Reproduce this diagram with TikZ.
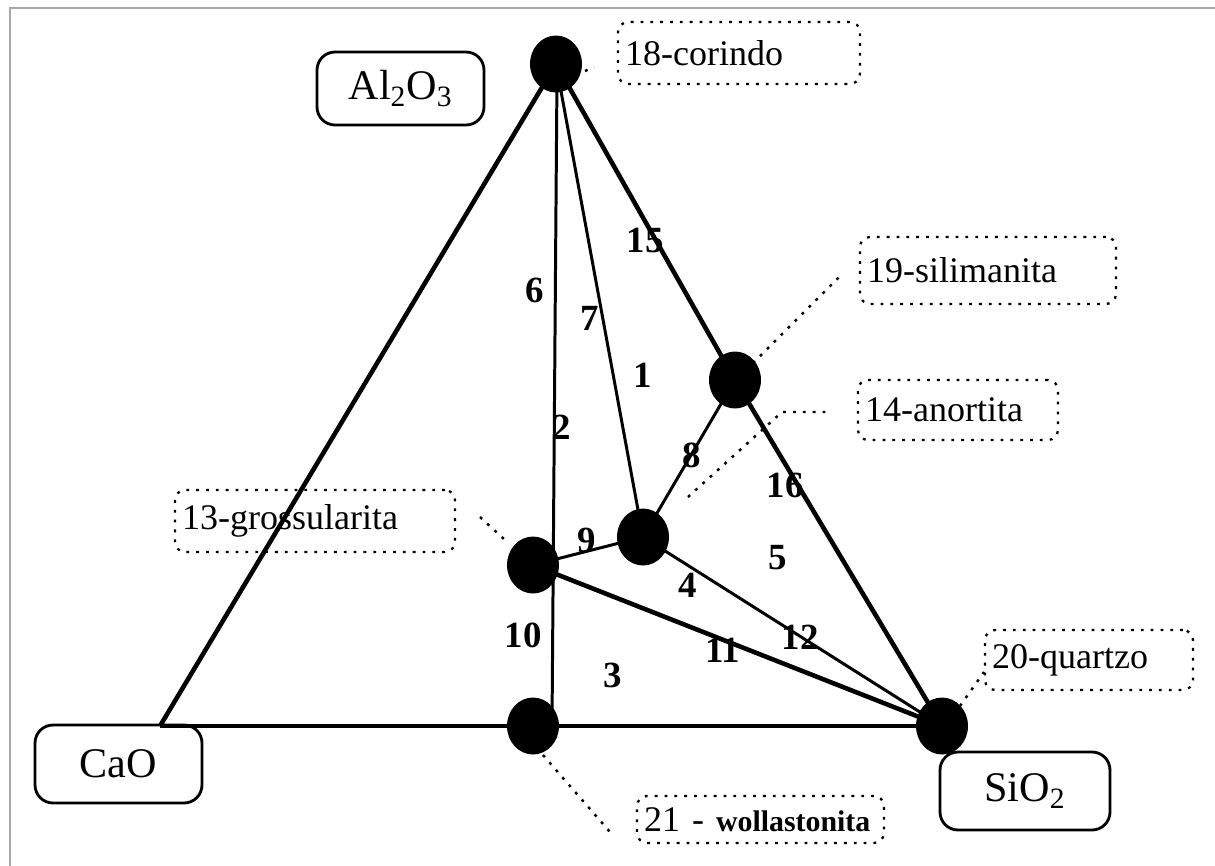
\documentclass[tikz,border=0pt]{standalone}
\usepackage{fontspec}
\setmainfont{Liberation Serif}
\usetikzlibrary{shapes.geometric}
\begin{document}
\begin{tikzpicture}[x=0.02cm,y=-0.02cm,
  thickln/.style={line width=2.6pt},
  thinln/.style={line width=1.7pt},
  dot/.style={ellipse,fill=black,minimum width=1.04cm,minimum height=1.14cm,inner sep=0pt},
  chem/.style={draw,rounded corners=0.36cm,line width=1.6pt,inner sep=0pt,font=\fontsize{24}{28}\selectfont},
  tag/.style={draw,dash pattern=on 1.6pt off 4pt,line width=1.3pt,rounded corners=0.2cm,inner xsep=0.14cm,inner ysep=0pt,align=left,font=\fontsize{20.5}{24}\selectfont},
  leader/.style={dash pattern=on 1.6pt off 4pt,line width=1.4pt},
  num/.style={font=\bfseries\fontsize{21}{24}\selectfont,inner sep=0pt},
  frameln/.style={gray!70,line width=0.7pt}]
\useasboundingbox (0,0) rectangle (1215,866);
\fill[white] (0,0) rectangle (1215,866);
% frame
\coordinate (f1) at (1215,8);
\coordinate (f2) at (10,8);
\coordinate (f3) at (10,866);
\draw[frameln] (f1) -- (f2) -- (f3);
% vertices
\coordinate (A) at (556,64);
\coordinate (S) at (735,380);
\coordinate (N) at (643,537);
\coordinate (G) at (533,565);
\coordinate (W) at (533,726);
\coordinate (Q) at (942,726);
\coordinate (K) at (160,726);
\coordinate (Vt) at (557,75);
\coordinate (Vb) at (552,726);
% lines
\draw[thickln] (A) -- (K);
\draw[thickln] (K) -- (Q);
\draw[thickln] (A) -- (S);
\draw[thickln] (S) -- (Q);
\draw[thickln] (G) -- (Q);
\draw[thinln] (Vt) -- (Vb);
\draw[thinln] (A) -- (N);
\draw[thinln] (S) -- (N);
\draw[thinln] (G) -- (N);
\draw[thinln] (N) -- (Q);
% dots
\node[dot] (Adot) at (A) {};
\node[dot] (Sdot) at (S) {};
\node[dot] (Ndot) at (N) {};
\node[dot] (Gdot) at (G) {};
\node[dot] (Wdot) at (W) {};
\node[dot] (Qdot) at (Q) {};
% oxide boxes
\node[chem,minimum width=3.34cm,minimum height=1.46cm] (al) at (400.5,88.5) {Al\textsubscript{2}O\textsubscript{3}};
\node[chem,minimum width=3.34cm,minimum height=1.56cm] (cao) at (118.5,764) {CaO};
\node[chem,minimum width=3.4cm,minimum height=1.56cm] (sio) at (1025,791) {SiO\textsubscript{2}};
% mineral tags
\node[tag,text width=4.56cm,minimum height=1.24cm] (tcor) at (739,53) {18-corindo};
\node[tag,text width=4.84cm,minimum height=1.34cm] (tsil) at (988,270.5) {19-silimanita};
\node[tag,text width=3.72cm,minimum height=1.2cm] (tano) at (958,410) {14-anortita};
\node[tag,text width=5.32cm,minimum height=1.24cm] (tgro) at (315,521) {13-grossularita};
\node[tag,text width=3.88cm,minimum height=1.2cm] (tqua) at (1089,660) {20-quartzo};
\node[tag,text width=4.66cm,minimum height=0.94cm] (twol) at (760.5,819.5) {\mbox{21 - {\bfseries\fontsize{17}{20}\selectfont wollastonita}}};
% leaders
\coordinate (lc1) at (585,71); \coordinate (lc2) at (594,67);
\draw[leader] (lc1) -- (lc2);
\coordinate (ls1) at (753,363); \coordinate (ls2) at (839,277);
\draw[leader] (ls1) -- (ls2);
\coordinate (la1) at (688,497); \coordinate (la2) at (782,412); \coordinate (la3) at (832,412);
\draw[leader] (la1) -- (la2) -- (la3);
\coordinate (lg1) at (480,517); \coordinate (lg2) at (505,540);
\draw[leader] (lg1) -- (lg2);
\coordinate (lq1) at (960,706); \coordinate (lq2) at (984,672);
\draw[leader] (lq1) -- (lq2);
\coordinate (lw1) at (543,755); \coordinate (lw2) at (610,832);
\draw[leader] (lw1) -- (lw2);
% region numbers
\node[num] (n15) at (645,240) {15};
\node[num] (n6) at (535,290) {6};
\node[num] (n7) at (590,318) {7};
\node[num] (n1) at (643,375) {1};
\node[num] (n2) at (562,427) {2};
\node[num] (n8) at (692,455) {8};
\node[num] (n16) at (785,485) {16};
\node[num] (n9) at (587,540) {9};
\node[num] (n5) at (778,558) {5};
\node[num] (n4) at (688,585) {4};
\node[num] (n10) at (523,635) {10};
\node[num] (n3) at (613,675) {3};
\node[num] (n11) at (723,650) {11};
\node[num] (n12) at (800,637) {12};
\end{tikzpicture}
\end{document}
